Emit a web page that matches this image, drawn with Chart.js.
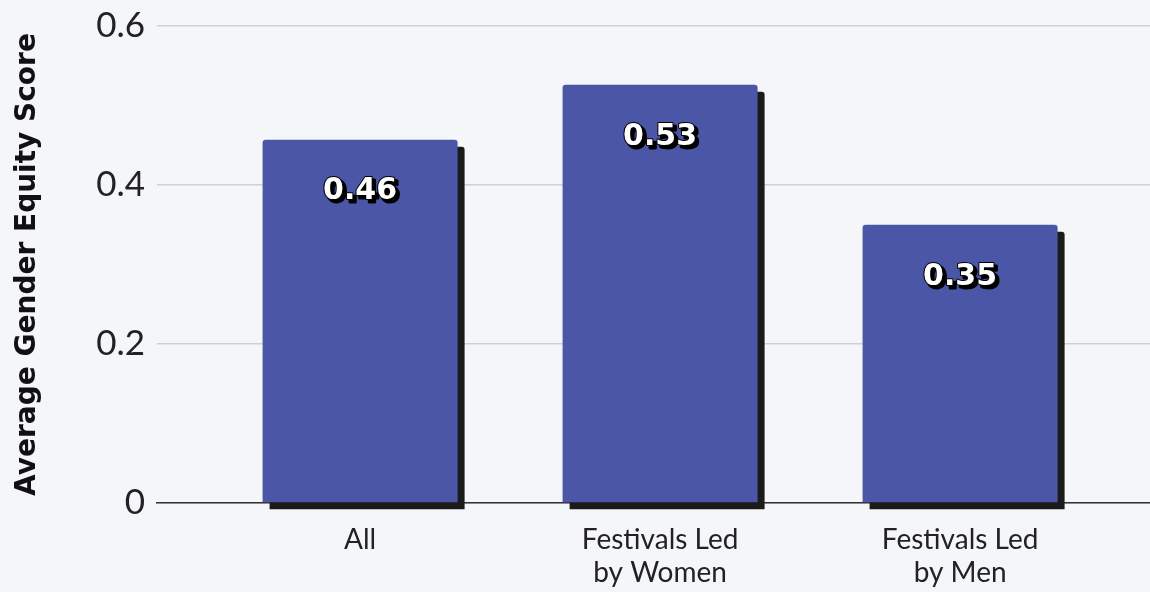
<!DOCTYPE html>
<html>
<head>
<meta charset="utf-8">
<script src="https://cdn.jsdelivr.net/npm/chart.js@4"></script>
<style>
  html, body { margin: 0; padding: 0; background: #f5f6fa; }
  #wrap { width: 1150px; height: 592px; }
</style>
</head>
<body>
<div id="wrap"><canvas id="equityChart"></canvas></div>
<script>
// Categories (multi-line labels) and average scores
const categories = [['All'], ['Festivals Led', 'by Women'], ['Festivals Led', 'by Men']];
const scores = [0.457, 0.526, 0.35];
const scoreLabels = ['0.46', '0.53', '0.35'];
const yTicks = [0, 0.2, 0.4, 0.6];

const barColor = '#4b57a6';
const shadowColor = '#1b1b1b';
const fontFamily = 'Lato, "Noto Sans", sans-serif';
const boldFamily = '"DejaVu Sans", sans-serif';

// draws the hard black drop shadow behind each bar
const barShadow = {
    id: 'barShadow',
    beforeDatasetDraw(chart) {
        const ctx = chart.ctx;
        ctx.save();
        ctx.shadowColor = shadowColor;
        ctx.shadowOffsetX = 7;
        ctx.shadowOffsetY = 7;
        ctx.shadowBlur = 0;
    },
    afterDatasetDraw(chart) {
        chart.ctx.restore();
    }
};

// white value labels with black offset shadow inside each bar
const valueLabels = {
    id: 'valueLabels',
    afterDatasetsDraw(chart) {
        const ctx = chart.ctx;
        const meta = chart.getDatasetMeta(0);
        ctx.save();
        ctx.font = 'bold 30px ' + boldFamily;
        ctx.textAlign = 'center';
        ctx.textBaseline = 'middle';
        ctx.lineJoin = 'round';
        meta.data.forEach(function (bar, i) {
            const x = bar.x;
            const y = bar.y + 52;
            const txt = scoreLabels[i];
            ctx.fillStyle = '#000';
            ctx.strokeStyle = '#000';
            ctx.lineWidth = 3;
            ctx.strokeText(txt, x + 3, y + 3);
            ctx.fillText(txt, x + 3, y + 3);
            ctx.lineWidth = 2;
            ctx.strokeText(txt, x, y);
            ctx.fillStyle = '#fff';
            ctx.fillText(txt, x, y);
        });
        ctx.restore();
    }
};

const ctx = document.getElementById('equityChart').getContext('2d');

new Chart(ctx, {
    type: 'bar',
    data: {
        datasets: [{
            data: scores.map(function (v, i) { return { x: i, y: v }; }),
            backgroundColor: barColor,
            borderWidth: 0,
            borderRadius: { topLeft: 3, topRight: 3 },
            borderSkipped: 'bottom',
            barPercentage: 0.65,
            categoryPercentage: 1,
            clip: false
        }]
    },
    options: {
        responsive: true,
        maintainAspectRatio: false,
        animation: false,
        layout: { padding: { top: 26, right: 0, left: 0, bottom: 0 } },
        plugins: {
            legend: { display: false },
            tooltip: { enabled: false }
        },
        scales: {
            x: {
                type: 'linear',
                offset: false,
                min: -0.677,
                max: 2.633,
                afterBuildTicks: function (scale) {
                    scale.ticks = categories.map(function (c, i) { return { value: i }; });
                },
                afterFit: function (scale) { scale.height = 89; },
                grid: { display: false, drawTicks: false },
                border: { display: true, color: '#333', width: 1.5 },
                ticks: {
                    autoSkip: false,
                    maxRotation: 0,
                    padding: 20,
                    color: '#222',
                    font: { family: fontFamily, size: 28, lineHeight: 1.18 },
                    callback: function (value) { return categories[value]; }
                }
            },
            y: {
                min: 0,
                max: 0.6,
                afterBuildTicks: function (scale) {
                    scale.ticks = yTicks.map(function (v) { return { value: v }; });
                },
                afterFit: function (scale) {
                    scale.width = 157;
                    scale.paddingTop = 0;
                    scale.paddingBottom = 0;
                },
                grid: { color: '#cfd0d6', lineWidth: 1.5, drawTicks: false },
                border: { display: false },
                ticks: {
                    padding: 12,
                    color: '#222',
                    font: { family: fontFamily, size: 35 },
                    callback: function (value) { return String(value); }
                },
                title: {
                    display: true,
                    text: 'Average Gender Equity Score',
                    color: '#111',
                    padding: { top: 11, bottom: 0 },
                    font: { family: boldFamily, size: 28, weight: 'bold' }
                }
            }
        }
    },
    plugins: [barShadow, valueLabels]
});
</script>
</body>
</html>
